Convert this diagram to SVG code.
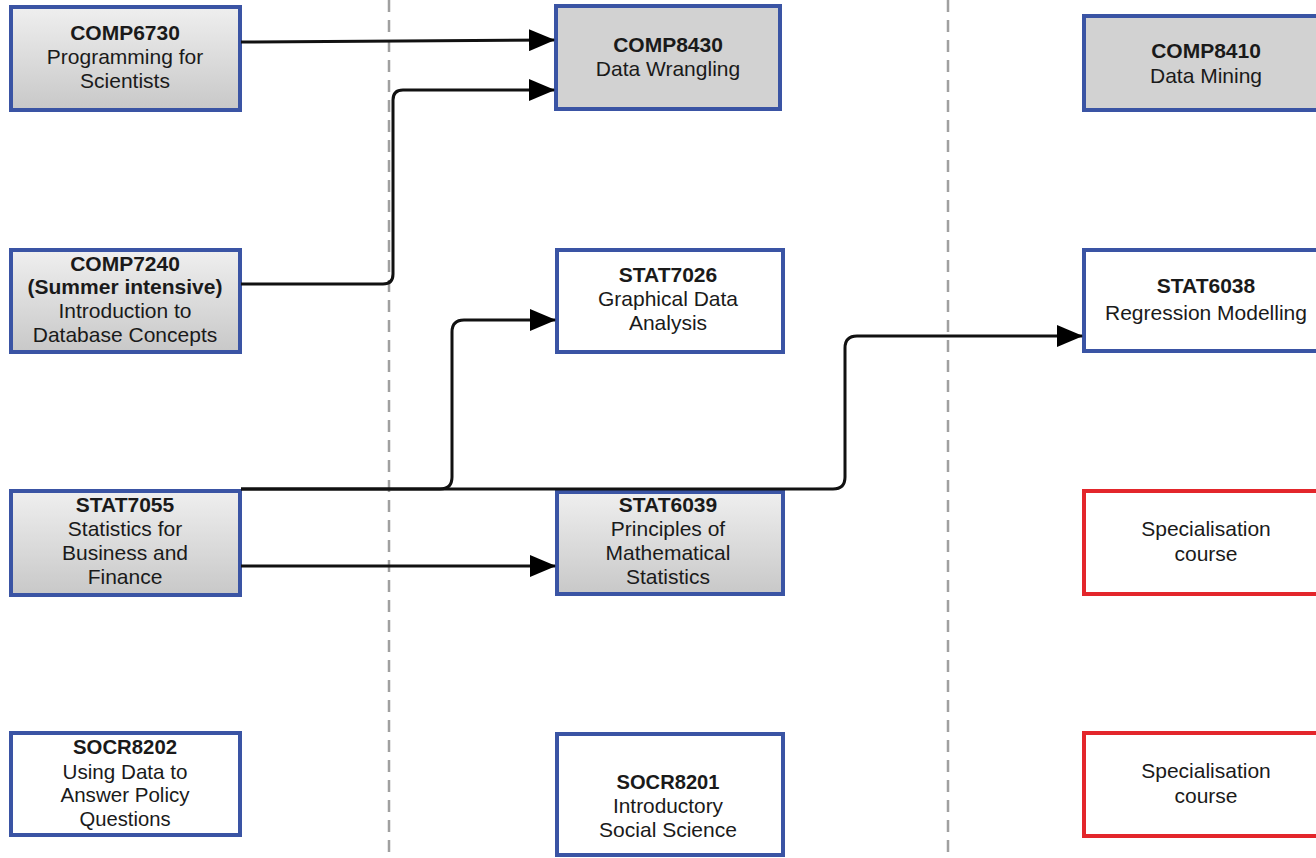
<svg xmlns="http://www.w3.org/2000/svg" width="1316" height="858" viewBox="0 0 1316 858">
<style>
.box{stroke:#3a54a4;stroke-width:4}
.red{stroke:#e3262b;stroke-width:4;fill:#fff}
.white{fill:#fff}
.grad{fill:url(#g)}
.gray{fill:#d2d2d2}
text{font-family:"Liberation Sans",Arial,sans-serif;font-size:21px;fill:#1a1a1a;text-anchor:middle}
.b{font-weight:bold}
.n{font-family:"Liberation Sans Narrow","Liberation Sans",Arial,sans-serif;font-size:21px}
.sep{stroke:#a0a0a0;stroke-width:2.5;stroke-dasharray:12 8;fill:none}
.c{fill:none;stroke:#111;stroke-width:3;marker-end:url(#a)}
</style>
<defs>
<linearGradient id="g" x1="0" y1="0" x2="0" y2="1">
<stop offset="0" stop-color="#efefef"/>
<stop offset="1" stop-color="#c8c8c8"/>
</linearGradient>
<marker id="a" markerUnits="userSpaceOnUse" markerWidth="26" markerHeight="22" refX="25" refY="11" orient="auto">
<path d="M0,0 L26,11 L0,22 Z" fill="#000"/>
</marker>
</defs>
<rect width="1316" height="858" fill="#fff"/>
<g id="separators">
<line class="sep" x1="389" y1="0" x2="389" y2="858"/>
<line class="sep" x1="948" y1="0" x2="948" y2="858"/>
</g>
<g id="COMP6730">
<rect class="box grad" x="11" y="7" width="229" height="103"/>
<text x="125" y="40" class="b">COMP6730</text>
<text x="125" y="64">Programming for</text>
<text x="125" y="88">Scientists</text>
</g>
<g id="COMP7240">
<rect class="box grad" x="11" y="250" width="229" height="102"/>
<text x="125" y="271" class="b">COMP7240</text>
<text x="125" y="294" class="b">(Summer intensive)</text>
<text x="125" y="318">Introduction to</text>
<text x="125" y="342">Database Concepts</text>
</g>
<g id="STAT7055">
<rect class="box grad" x="11" y="491" width="229" height="104"/>
<text x="125" y="512" class="b">STAT7055</text>
<text x="125" y="536">Statistics for</text>
<text x="125" y="560">Business and</text>
<text x="125" y="584">Finance</text>
</g>
<g id="SOCR8202">
<rect class="box white" x="11" y="733" width="229" height="102"/>
<text x="125" y="754" class="b n" textLength="104" lengthAdjust="spacingAndGlyphs">SOCR8202</text>
<text x="125" y="779" class="n" textLength="125" lengthAdjust="spacingAndGlyphs">Using Data to</text>
<text x="125" y="802" class="n" textLength="129" lengthAdjust="spacingAndGlyphs">Answer Policy</text>
<text x="125" y="826" class="n" textLength="91" lengthAdjust="spacingAndGlyphs">Questions</text>
</g>
<g id="COMP8430">
<rect class="box gray" x="556" y="6" width="224" height="103"/>
<text x="668" y="52" class="b">COMP8430</text>
<text x="668" y="76">Data Wrangling</text>
</g>
<g id="STAT7026">
<rect class="box white" x="557" y="250" width="226" height="102"/>
<text x="668" y="282" class="b">STAT7026</text>
<text x="668" y="306">Graphical Data</text>
<text x="668" y="330">Analysis</text>
</g>
<g id="STAT6039">
<rect class="box grad" x="557" y="492" width="226" height="102"/>
<text x="668" y="512" class="b">STAT6039</text>
<text x="668" y="536">Principles of</text>
<text x="668" y="560">Mathematical</text>
<text x="668" y="584">Statistics</text>
</g>
<g id="SOCR8201">
<rect class="box white" x="557" y="734" width="226" height="121"/>
<text x="668" y="789" class="b n" textLength="103" lengthAdjust="spacingAndGlyphs">SOCR8201</text>
<text x="668" y="813" class="n" textLength="110" lengthAdjust="spacingAndGlyphs">Introductory</text>
<text x="668" y="837" class="n" textLength="138" lengthAdjust="spacingAndGlyphs">Social Science</text>
</g>
<g id="COMP8410">
<rect class="box gray" x="1084" y="16" width="246" height="94"/>
<text x="1206" y="58" class="b">COMP8410</text>
<text x="1206" y="83">Data Mining</text>
</g>
<g id="STAT6038">
<rect class="box white" x="1084" y="250" width="246" height="101"/>
<text x="1206" y="293" class="b">STAT6038</text>
<text x="1206" y="320">Regression Modelling</text>
</g>
<g id="SPEC1">
<rect class="red" x="1084" y="491" width="246" height="103"/>
<text x="1206" y="536">Specialisation</text>
<text x="1206" y="561">course</text>
</g>
<g id="SPEC2">
<rect class="red" x="1084" y="733" width="246" height="103"/>
<text x="1206" y="778">Specialisation</text>
<text x="1206" y="803">course</text>
</g>
<g id="connectors">
<path class="c" d="M241,42 L554,40"/>
<path class="c" d="M241,284 L383,284 Q393,284 393,274 L393,100 Q393,90 403,90 L554,90"/>
<path class="c" d="M241,489 L440,489 Q452,489 452,477 L452,332 Q452,320 464,320 L555,320"/>
<path class="c" d="M241,489 L833,489 Q845,489 845,477 L845,348 Q845,336 857,336 L1082,336"/>
<path class="c" d="M241,566 L555,566"/>
</g>
</svg>
